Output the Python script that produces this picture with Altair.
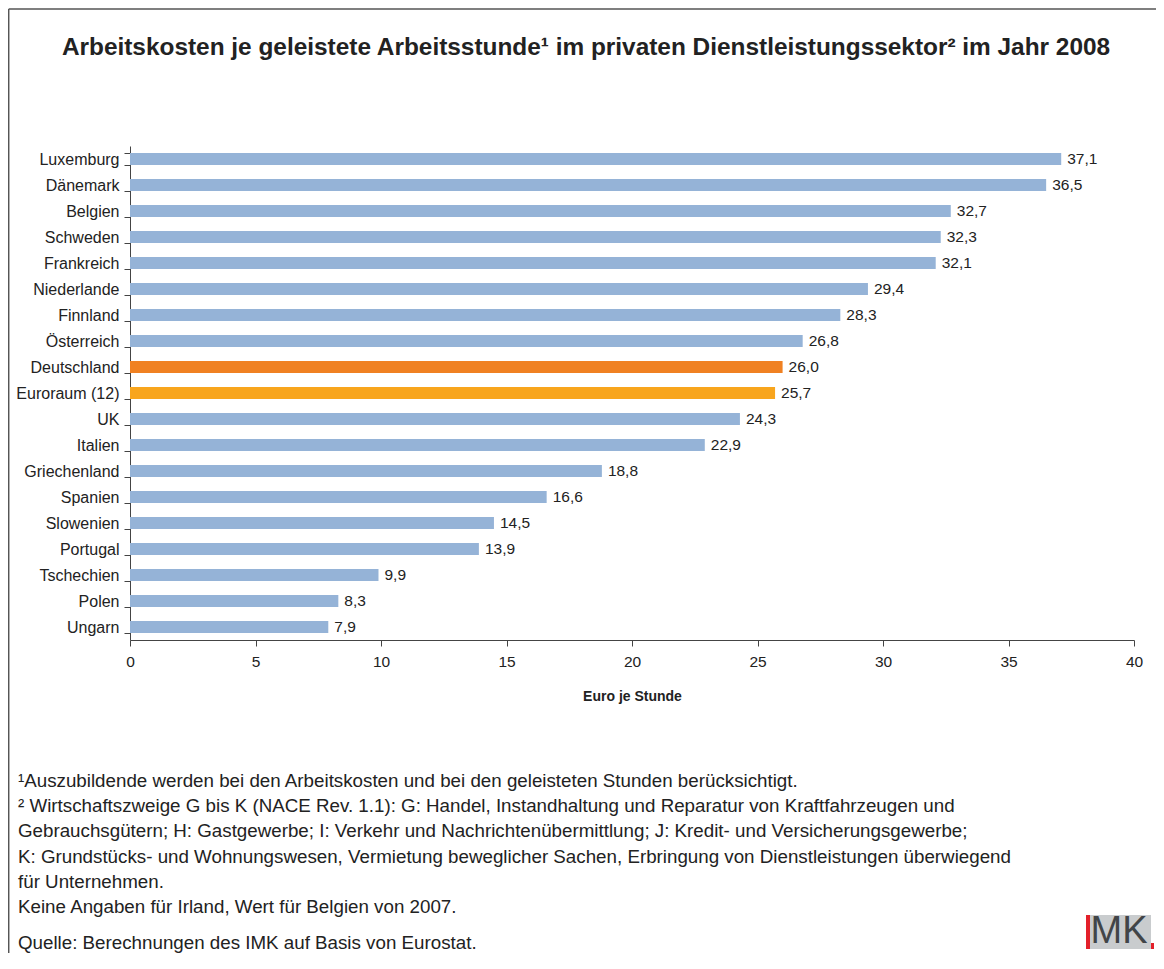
import altair as alt
import pandas as pd

countries = ["Luxemburg", "Dänemark", "Belgien", "Schweden", "Frankreich", "Niederlande",
             "Finnland", "Österreich", "Deutschland", "Euroraum (12)", "UK", "Italien",
             "Griechenland", "Spanien", "Slowenien", "Portugal", "Tschechien", "Polen", "Ungarn"]
values = [37.1, 36.5, 32.7, 32.3, 32.1, 29.4, 28.3, 26.8, 26.0, 25.7, 24.3, 22.9,
          18.8, 16.6, 14.5, 13.9, 9.9, 8.3, 7.9]
groups = ["andere"] * 8 + ["Deutschland", "Euroraum"] + ["andere"] * 9
x_ticks = [0, 5, 10, 15, 20, 25, 30, 35, 40]

title_text = "Arbeitskosten je geleistete Arbeitsstunde¹ im privaten Dienstleistungssektor²  im Jahr 2008"
x_title = "Euro je Stunde"
footnotes = [
    "¹Auszubildende werden bei den Arbeitskosten und bei den geleisteten Stunden berücksichtigt.",
    "² Wirtschaftszweige G bis K (NACE Rev. 1.1): G: Handel, Instandhaltung und Reparatur von Kraftfahrzeugen und",
    "Gebrauchsgütern; H: Gastgewerbe; I: Verkehr und Nachrichtenübermittlung; J: Kredit- und Versicherungsgewerbe;",
    "K: Grundstücks- und Wohnungswesen, Vermietung beweglicher Sachen, Erbringung von Dienstleistungen überwiegend",
    "für Unternehmen.",
    "Keine Angaben für Irland, Wert für Belgien von 2007.",
]
source = "Quelle: Berechnungen des IMK auf Basis von Eurostat."

df = pd.DataFrame({
    "land": countries,
    "wert": values,
    "gruppe": groups,
    "label": [f"{v:.1f}".replace(".", ",") for v in values],
})

FONT = "Liberation Sans"
TXT = "#222222"

y_enc = alt.Y("land:N", sort=countries, title=None,
              scale=alt.Scale(paddingInner=0.54, paddingOuter=0.27),
              axis=alt.Axis(labelFontSize=16, labelFont=FONT, labelColor=TXT,
                            tickBand="extent", tickSize=6, tickColor="#444444",
                            domainColor="#444444", labelPadding=5))
x_enc = alt.X("wert:Q", title=x_title,
              scale=alt.Scale(domain=[0, 40], nice=False),
              axis=alt.Axis(values=x_ticks, grid=False, tickSize=6, tickColor="#444444",
                            domainColor="#444444", labelFontSize=15.5, labelFont=FONT,
                            labelColor=TXT, labelPadding=8, labelFlush=False,
                            titleFont=FONT, titleFontSize=14, titleFontWeight="bold",
                            titleColor=TXT, titlePadding=20))

bars = alt.Chart(df).mark_bar().encode(
    x=x_enc, y=y_enc,
    color=alt.Color("gruppe:N", legend=None,
                    scale=alt.Scale(domain=["andere", "Deutschland", "Euroraum"],
                                    range=["#95B3D7", "#F08122", "#F8A51D"])),
)
labels = alt.Chart(df).mark_text(align="left", dx=6, fontSize=15.5, font=FONT, color=TXT).encode(
    x="wert:Q", y=alt.Y("land:N", sort=countries), text="label:N")

one = pd.DataFrame({"a": [0]})
title = alt.Chart(one).mark_text(fontSize=24.4, font=FONT, fontWeight="bold", color=TXT,
                                 align="center", baseline="middle").encode(
    x=alt.value(456), y=alt.value(-98), text=alt.value(title_text))
notes = alt.Chart(one).mark_text(fontSize=18.75, font=FONT, color=TXT, align="left",
                                 baseline="top", lineHeight=25.2, lineBreak="\n").encode(
    x=alt.value(-112), y=alt.value(626), text=alt.value("\n".join(footnotes)))
src = alt.Chart(one).mark_text(fontSize=18.75, font=FONT, color=TXT, align="left",
                               baseline="middle").encode(
    x=alt.value(-112), y=alt.value(797), text=alt.value(source))
frame_left = alt.Chart(one).mark_rule(color="#555555", strokeWidth=1.5).encode(
    x=alt.value(-121.3), y=alt.value(-137), y2=alt.value(830))
frame_top = alt.Chart(one).mark_rule(color="#555555", strokeWidth=1.5).encode(
    x=alt.value(-121.3), x2=alt.value(1030), y=alt.value(-137))
logo_bg = alt.Chart(one).mark_rect(color="#C9CCCE").encode(
    x=alt.value(960), x2=alt.value(1021), y=alt.value(769), y2=alt.value(803))
logo_red = alt.Chart(one).mark_rect(color="#E3202A").encode(
    x=alt.value(956), x2=alt.value(960), y=alt.value(769), y2=alt.value(803))
logo_dot = alt.Chart(one).mark_rect(color="#E3202A").encode(
    x=alt.value(1021), x2=alt.value(1024), y=alt.value(797), y2=alt.value(803))
logo_txt = alt.Chart(one).mark_text(fontSize=38, font=FONT, color="#414548",
                                    align="center", baseline="middle").encode(
    x=alt.value(989), y=alt.value(786), text=alt.value("MK"))

chart = alt.layer(frame_left, frame_top, title, bars, labels, notes, src,
                  logo_bg, logo_red, logo_dot, logo_txt).properties(
    width=1004, height=494,
    autosize=alt.AutoSizeParams(type="none"),
    padding={"left": 122, "top": 138, "right": 22, "bottom": 313},
).configure(background="white").configure_view(stroke=None)

chart.save("out.html", embed_options={"renderer": "svg", "actions": False})
